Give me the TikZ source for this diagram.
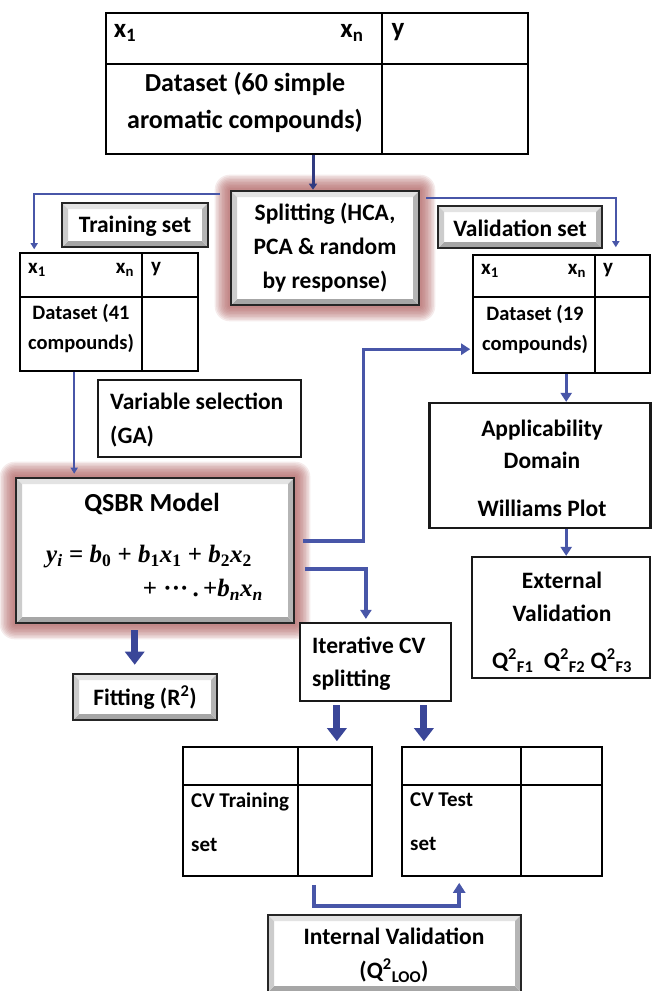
\documentclass[tikz,border=0pt]{standalone}
\usepackage{fontspec}
\setmainfont{Carlito}
\newfontfamily\eqfont{Liberation Serif}
\usetikzlibrary{calc,arrows.meta,backgrounds}
\definecolor{lineblue}{RGB}{72,86,168}
\definecolor{navyblue}{RGB}{48,58,128}
\definecolor{fatblue}{RGB}{58,70,152}
\definecolor{glowc}{RGB}{172,92,92}
\newcommand{\fsz}[2]{\fontsize{#1}{#2}\selectfont}
\newcommand{\vi}[1]{\textit{#1}}
\newcommand{\eqone}{{\eqfont\bfseries \vi{y}\textsubscript{\vi{i}} = \vi{b}\textsubscript{0} + \vi{b}\textsubscript{1}\vi{x}\textsubscript{1} + \vi{b}\textsubscript{2}\vi{x}\textsubscript{2}}}
\newcommand{\eqtwo}{{\eqfont\bfseries + \textperiodcentered\textperiodcentered\textperiodcentered\,.\,+\vi{b}\textsubscript{\vi{n}}\vi{x}\textsubscript{\vi{n}}}}
\tikzset{
  tbl/.style={draw=black, line width=1.6pt, inner sep=0pt},
  plainbox/.style={draw=black!90, line width=2.2pt, fill=white, inner sep=0pt},
  bev/.style={draw=black!85, line width=2.6pt, fill=white, inner sep=0pt,
    path picture={
      \fill[gray!22] (path picture bounding box.north west) -- (path picture bounding box.north east)
        -- ([shift={(-6pt,-6pt)}]path picture bounding box.north east) -- ([shift={(6pt,-6pt)}]path picture bounding box.north west) -- cycle;
      \fill[gray!70] (path picture bounding box.south west) -- (path picture bounding box.south east)
        -- ([shift={(-6pt,6pt)}]path picture bounding box.south east) -- ([shift={(6pt,6pt)}]path picture bounding box.south west) -- cycle;
      \fill[gray!40] (path picture bounding box.north west) -- (path picture bounding box.south west)
        -- ([shift={(6pt,6pt)}]path picture bounding box.south west) -- ([shift={(6pt,-6pt)}]path picture bounding box.north west) -- cycle;
      \fill[gray!58] (path picture bounding box.north east) -- (path picture bounding box.south east)
        -- ([shift={(-6pt,6pt)}]path picture bounding box.south east) -- ([shift={(-6pt,-6pt)}]path picture bounding box.north east) -- cycle;
    }},
  txt/.style={font=\bfseries, inner sep=0pt},
  thinar/.style={draw=lineblue, line width=2pt, -{Triangle[width=7pt,length=6pt]}},
  midar/.style={draw=lineblue, line width=3.3pt, -{Triangle[width=11pt,length=9pt]}},
  topar/.style={draw=navyblue, line width=3pt, -{Triangle[width=8pt,length=6pt]}},
  fatar/.style={draw=fatblue, line width=7pt, -{Triangle[width=19pt,length=13pt]}},
}
\newcommand{\glowbox}[1]{%
  \foreach \k in {1,...,10}{%
    \pgfmathsetmacro{\gd}{\k*1.5}%
    \fill[glowc, opacity=0.12, rounded corners=\gd pt]
      ([shift={(-\gd pt,-\gd pt)}]#1.south west) rectangle ([shift={(\gd pt,\gd pt)}]#1.north east);
  }}
\begin{document}
\begin{tikzpicture}[x=1pt,y=-1pt]
\useasboundingbox (0,0) rectangle (653,991);

% ---------- top dataset table
\node[tbl, minimum width=422, minimum height=141] (T) at (317,83.5) {};
\draw[line width=1.6pt] ($(T.north west)+(277,0)$) -- ($(T.south west)+(277,0)$);
\draw[line width=1.6pt] ($(T.north west)+(0,52)$) -- ($(T.north east)+(0,52)$);
\node[txt, font=\bfseries\fsz{27}{30}] (Tx1) at (125,33) {x\textsubscript{1}};
\node[txt, font=\bfseries\fsz{27}{30}] (Txn) at (352,33) {x\textsubscript{n}};
\node[txt, font=\bfseries\fsz{27}{30}] (Ty) at (398,32) {y};
\node[txt, font=\bfseries\fsz{26}{37}, align=center] (Td) at (245,102) {Dataset (60 simple\\aromatic compounds)};

% ---------- splitting
\node[bev, minimum width=188, minimum height=114] (split) at (325,248) {};
\node[txt, font=\bfseries\fsz{23.5}{34}, align=center] (splitt) at (325,248) {Splitting (HCA,\\PCA \& random\\by response)};

% ---------- training / validation labels
\node[bev, minimum width=146, minimum height=44] (trs) at (135,225) {};
\node[txt, font=\bfseries\fsz{23.5}{28}] (trst) at (135,226) {Training set};
\node[bev, minimum width=164, minimum height=42] (vs) at (520,227) {};
\node[txt, font=\bfseries\fsz{23.5}{28}] (vst) at (520,228) {Validation set};

% ---------- training table
\node[tbl, minimum width=178, minimum height=118] (trtab) at (109,312) {};
\draw[line width=1.6pt] ($(trtab.north west)+(123,0)$) -- ($(trtab.south west)+(123,0)$);
\draw[line width=1.6pt] ($(trtab.north west)+(0,45)$) -- ($(trtab.north east)+(0,45)$);
\node[txt, font=\bfseries\fsz{21}{24}] (trx1) at (37,270) {x\textsubscript{1}};
\node[txt, font=\bfseries\fsz{21}{24}] (trxn) at (125,270) {x\textsubscript{n}};
\node[txt, font=\bfseries\fsz{21}{24}] (try) at (156,269) {y};
\node[txt, font=\bfseries\fsz{20.5}{30}, align=center] (trd) at (81,328) {Dataset (41\\compounds)};

% ---------- validation table
\node[tbl, minimum width=177, minimum height=118] (vtab) at (561.5,314) {};
\draw[line width=1.6pt] ($(vtab.north west)+(123,0)$) -- ($(vtab.south west)+(123,0)$);
\draw[line width=1.6pt] ($(vtab.north west)+(0,43)$) -- ($(vtab.north east)+(0,43)$);
\node[txt, font=\bfseries\fsz{21}{24}] (vx1) at (490,271) {x\textsubscript{1}};
\node[txt, font=\bfseries\fsz{21}{24}] (vxn) at (577,271) {x\textsubscript{n}};
\node[txt, font=\bfseries\fsz{21}{24}] (vy) at (608,270) {y};
\node[txt, font=\bfseries\fsz{20.5}{30}, align=center] (vd) at (535,329) {Dataset (19\\compounds)};

% ---------- variable selection
\node[plainbox, minimum width=203, minimum height=77] (var) at (199.5,418.5) {};
\node[txt, font=\bfseries\fsz{23.5}{34}, align=left, anchor=west] (vart) at (110,420) {Variable selection\\(GA)};

% ---------- QSBR model
\node[bev, minimum width=278, minimum height=145] (qsbr) at (155,550.5) {};
\node[txt, font=\bfseries\fsz{26}{30}] (qt) at (152,504) {QSBR Model};
\node[txt, font=\fsz{25}{28}] (eqa) at (149,557) {\eqone};
\node[txt, font=\fsz{25}{28}, anchor=east] (eqb) at (263,590) {\eqtwo};

% ---------- applicability & external
\node[plainbox, minimum width=221, minimum height=125] (app) at (540,465.5) {};
\node[txt, font=\bfseries\fsz{23.5}{32}, align=center] (appt) at (542,444) {Applicability\\Domain};
\node[txt, font=\bfseries\fsz{23.5}{28}] (appw) at (542,508) {Williams Plot};
\node[plainbox, minimum width=178, minimum height=121] (ext) at (561,617.5) {};
\node[txt, font=\bfseries\fsz{23.5}{33}, align=center] (extt) at (562,597) {External\\Validation};
\node[txt, font=\bfseries\fsz{23.5}{28}] (extq) at (562,661) {Q\textsuperscript{2}\textsubscript{F1}\ \ Q\textsuperscript{2}\textsubscript{F2} Q\textsuperscript{2}\textsubscript{F3}};

% ---------- iterative CV
\node[plainbox, minimum width=151, minimum height=78] (iter) at (375.5,662) {};
\node[txt, font=\bfseries\fsz{23.5}{33}, align=left, anchor=west] (itert) at (312,664) {Iterative CV\\splitting};

% ---------- fitting
\node[bev, minimum width=144, minimum height=46] (fit) at (145,697) {};
\node[txt, font=\bfseries\fsz{23.5}{28}] (fitt) at (145,698) {Fitting (R\textsuperscript{2})};

% ---------- CV tables
\node[tbl, minimum width=189, minimum height=129] (cvtr) at (277.5,811.5) {};
\draw[line width=1.6pt] ($(cvtr.north west)+(116,0)$) -- ($(cvtr.south west)+(116,0)$);
\draw[line width=1.6pt] ($(cvtr.north west)+(0,39)$) -- ($(cvtr.north east)+(0,39)$);
\node[txt, font=\bfseries\fsz{21}{44}, align=left, anchor=west] (cvtrt) at (191,822) {CV Training\\set};
\node[tbl, minimum width=200, minimum height=129] (cvte) at (502,811.5) {};
\draw[line width=1.6pt] ($(cvte.north west)+(120,0)$) -- ($(cvte.south west)+(120,0)$);
\draw[line width=1.6pt] ($(cvte.north west)+(0,39)$) -- ($(cvte.north east)+(0,39)$);
\node[txt, font=\bfseries\fsz{21}{44}, align=left, anchor=west] (cvtet) at (410,822) {CV Test\\set};

% ---------- internal validation
\node[bev, minimum width=253, minimum height=77] (intv) at (394.5,953.5) {};
\node[txt, font=\bfseries\fsz{23.5}{34}, align=center] (intvt) at (394,955) {Internal Validation\\(Q\textsuperscript{2}\textsubscript{LOO})};

% ---------- glows
\begin{scope}[on background layer]
  \glowbox{split}
  \glowbox{qsbr}
\end{scope}

% ---------- connectors
\draw[topar] ($(T.south)+(-4,0)$) -- ($(split.north)+(-12,0)$);
\draw[thinar] ($(split.north west)+(-10,4)$) -| ($(trtab.north west)+(15,-3)$);
\draw[thinar] ($(split.north east)+(6,8)$) -| ($(vtab.north east)+(-35,-7)$);
\coordinate (d1) at ($(trtab.south west)+(55,0)$);
\draw[thinar, shorten >=3pt] (d1) -- (d1 |- qsbr.north);
\coordinate (e1) at ($(qsbr.east)+(8,-9.5)$);
\coordinate (e2) at ($(vtab.north west)+(-2,95)$);
\draw[midar] (e1) -- ++(60,0) |- (e2);
\draw[midar] ($(qsbr.east)+(10,18.5)$) -| ($(iter.north west)+(67,-3)$);
\coordinate (g1) at ($(vtab.south west)+(94,0)$);
\draw[midar] (g1) -- (g1 |- app.north);
\draw[midar] (g1 |- app.south) -- (g1 |- ext.north);
\coordinate (i1) at ($(qsbr.south west)+(120,6)$);
\draw[fatar, shorten >=8pt] (i1) -- (i1 |- fit.north);
\coordinate (j1) at ($(iter.south west)+(38,3)$);
\draw[fatar, shorten >=5pt] (j1) -- (j1 |- cvtr.north);
\coordinate (j2) at ($(iter.south west)+(125,3)$);
\draw[fatar, shorten >=5pt] (j2) -- (j2 |- cvte.north);
\coordinate (k0) at ($(cvtr.south west)+(132,8)$);
\coordinate (k2) at ($(cvte.south west)+(58,6)$);
\draw[draw=lineblue, line width=4pt, -{Triangle[width=12pt,length=10pt]}] (k0) -- ($(k0 |- intv.north)+(0,-8)$) -| (k2);
\end{tikzpicture}
\end{document}
